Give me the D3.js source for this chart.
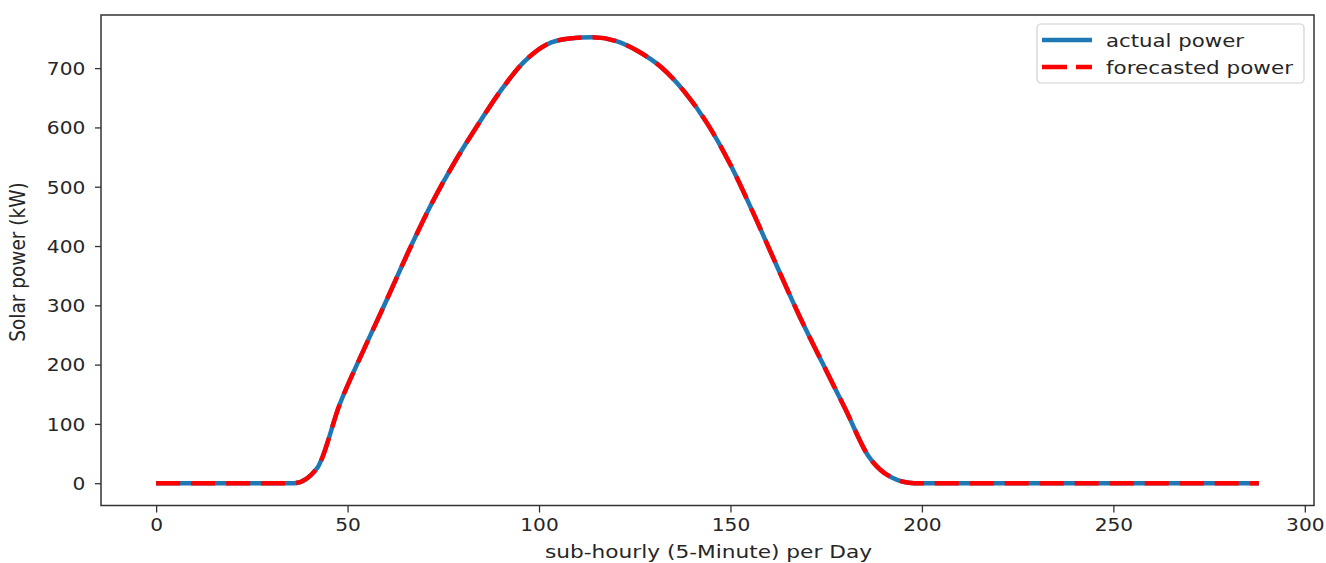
<!DOCTYPE html>
<html>
<head>
<meta charset="utf-8">
<script src="https://cdn.jsdelivr.net/npm/d3@7"></script>
<style>
  body { margin: 0; background: #fff; }
  text { font-family: "DejaVu Sans", sans-serif; fill: #262626; }
</style>
</head>
<body>
<div id="chart"></div>
<script>
// 5-minute step index (one knot every 30 minutes)
const steps = [0, 6, 12, 18, 24, 30, 36, 42, 48, 54, 60, 66, 72, 78, 84, 90, 96,
  102, 108, 114, 120, 126, 132, 138, 144, 150, 156, 162, 168, 174, 180, 186, 192,
  198, 204, 210, 216, 222, 228, 234, 240, 246, 252, 258, 264, 270, 276, 282, 288];

// solar power in kW
const actualPower = [0, 0, 0, 0, 0, 0, 0, 25, 134, 222, 306, 392, 472, 542, 604, 662, 710,
  740, 750, 752, 746, 728, 701, 660, 606, 537, 455, 368, 282, 203, 125, 46, 10,
  0, 0, 0, 0, 0, 0, 0, 0, 0, 0, 0, 0, 0, 0, 0, 0];
const forecastPower = [0, 0, 0, 0, 0, 0, 0, 25, 134, 222, 306, 392, 472, 542, 604, 662, 710,
  740, 750, 752, 746, 728, 701, 660, 606, 537, 455, 368, 282, 203, 125, 46, 10,
  0, 0, 0, 0, 0, 0, 0, 0, 0, 0, 0, 0, 0, 0, 0, 0];

const xTicks = [0, 50, 100, 150, 200, 250, 300];
const yTicks = [0, 100, 200, 300, 400, 500, 600, 700];

const width = 1326, height = 563;
const plot = { left: 101, right: 1314, top: 15, bottom: 505.5 };

const svg = d3.select("#chart").append("svg")
  .attr("width", width)
  .attr("height", height);

// matplotlib-like 5% margins
const xMax = d3.max(steps), yMax = d3.max(actualPower);
const x = d3.scaleLinear()
  .domain([-0.05 * xMax, xMax * 1.05])
  .range([plot.left, plot.right]);
const y = d3.scaleLinear()
  .domain([-0.05 * yMax, yMax * 1.05])
  .range([plot.bottom, plot.top]);

const line = d3.line()
  .x((d, i) => x(steps[i]))
  .y(d => y(d))
  .curve(d3.curveMonotoneX);

// lines
svg.append("path")
  .datum(actualPower)
  .attr("d", line)
  .attr("fill", "none")
  .attr("stroke", "#1f77b4")
  .attr("stroke-width", 4.5)
  .attr("stroke-linejoin", "round");

svg.append("path")
  .datum(forecastPower)
  .attr("d", line)
  .attr("fill", "none")
  .attr("stroke", "#ff0000")
  .attr("stroke-width", 4.5)
  .attr("stroke-dasharray", "24,11")
  .attr("stroke-linejoin", "round");

// axes
const xAxis = svg.append("g")
  .attr("transform", `translate(0,${plot.bottom})`)
  .call(d3.axisBottom(x).tickValues(xTicks).tickSize(7).tickPadding(6));
const yAxis = svg.append("g")
  .attr("transform", `translate(${plot.left},0)`)
  .call(d3.axisLeft(y).tickValues(yTicks).tickSize(6).tickPadding(8));

[xAxis, yAxis].forEach(g => {
  g.select(".domain").remove();
  g.selectAll(".tick line").attr("stroke", "#333").attr("stroke-width", 1.3);
  g.selectAll(".tick text")
    .attr("font-size", 18)
    .attr("font-family", "DejaVu Sans")
    .style("fill", "#262626");
});
xAxis.selectAll(".tick text").attr("transform", "scale(1.12,1)");
yAxis.selectAll(".tick text").attr("transform", "scale(1.12,1)").attr("dy", "0.35em");

// frame
svg.append("rect")
  .attr("x", plot.left)
  .attr("y", plot.top)
  .attr("width", plot.right - plot.left)
  .attr("height", plot.bottom - plot.top)
  .attr("fill", "none")
  .attr("stroke", "#333")
  .attr("stroke-width", 1.5);

// axis labels
svg.append("text")
  .attr("x", 545)
  .attr("y", 558)
  .attr("font-size", 18)
  .attr("textLength", 327)
  .attr("lengthAdjust", "spacingAndGlyphs")
  .text("sub-hourly (5-Minute) per Day");

svg.append("text")
  .attr("transform", "translate(25,262) rotate(-90) scale(1,1.15)")
  .attr("text-anchor", "middle")
  .attr("font-size", 18.5)
  .text("Solar power (kW)");

// legend
const legend = svg.append("g");
legend.append("rect")
  .attr("x", 1037).attr("y", 24)
  .attr("width", 267).attr("height", 59)
  .attr("rx", 4)
  .attr("fill", "#fff")
  .attr("fill-opacity", 0.8)
  .attr("stroke", "#d0d0d0")
  .attr("stroke-width", 1.2);

const legendItems = [
  { label: "actual power", color: "#1f77b4", dash: null, y: 40, len: 138 },
  { label: "forecasted power", color: "#ff0000", dash: "25,9", y: 67, len: 187 }
];
legendItems.forEach(d => {
  legend.append("line")
    .attr("x1", 1042).attr("x2", 1092)
    .attr("y1", d.y).attr("y2", d.y)
    .attr("stroke", d.color)
    .attr("stroke-width", 4.5)
    .attr("stroke-dasharray", d.dash);
  legend.append("text")
    .attr("x", 1106)
    .attr("y", d.y + 7)
    .attr("font-size", 18)
    .attr("textLength", d.len)
    .attr("lengthAdjust", "spacingAndGlyphs")
    .text(d.label);
});
</script>
</body>
</html>
